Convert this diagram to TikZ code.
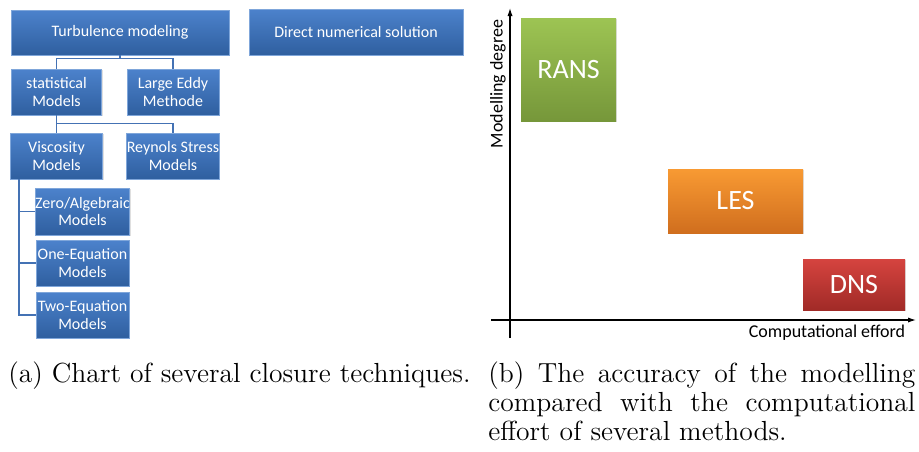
\documentclass[tikz,border=0pt]{standalone}
\usepackage{fontspec}
\newfontfamily\calib{Carlito}
\usetikzlibrary{arrows.meta,shadows}

\definecolor{boxtop}{HTML}{4C82CC}
\definecolor{boxbot}{HTML}{2F5F9F}
\definecolor{boxrim}{HTML}{7FA6DA}
\definecolor{connblue}{HTML}{4472B4}
\definecolor{ranstop}{HTML}{9DC453}
\definecolor{ransbot}{HTML}{76973A}
\definecolor{lestop}{HTML}{F89A33}
\definecolor{lesbot}{HTML}{D06E1E}
\definecolor{dnstop}{HTML}{D5443F}
\definecolor{dnsbot}{HTML}{A12A27}

\tikzset{
  treebox/.style={rectangle, draw=boxrim, line width=0.4pt,
    top color=boxtop, bottom color=boxbot, text=white, align=center,
    inner sep=0pt, font=\calib\fontsize{8}{8.7}\selectfont,
    drop shadow={shadow xshift=0.6pt, shadow yshift=-0.6pt, opacity=0.25}},
  conn/.style={draw=connblue, line width=0.75pt},
  methodbox/.style={rectangle, text=white, inner sep=0pt,
    font=\calib\fontsize{14}{16}\selectfont,
    drop shadow={shadow xshift=0.6pt, shadow yshift=-0.6pt, opacity=0.25}},
  axis/.style={draw=black, line width=0.6pt, -{Latex[length=4pt,width=2.6pt]}},
  axislabel/.style={font=\calib\fontsize{9}{10}\selectfont, inner sep=0pt},
  caption/.style={font=\fontsize{13.8}{14.5}\selectfont, inner sep=0pt}
}

\begin{document}
\begin{tikzpicture}[x=0.5pt,y=-0.5pt]
\useasboundingbox (0,0) rectangle (919,451);

% --- closure technique chart ---
\node[treebox, minimum width=109pt, minimum height=22.5pt] (turb) at (120,32.5) {Turbulence modeling};
\node[treebox, minimum width=107pt, minimum height=23pt] (dns0) at (356,32) {Direct numerical solution};
\node[treebox, minimum width=45pt, minimum height=23pt] (stat) at (56.5,92) {statistical\\Models};
\node[treebox, minimum width=46pt, minimum height=23pt] (lem) at (173,92) {Large Eddy\\Methode};
\node[treebox, minimum width=46pt, minimum height=23pt] (visc) at (56.5,156) {Viscosity\\Models};
\node[treebox, minimum width=46pt, minimum height=23pt] (reyn) at (173,156) {Reynols Stress\\Models};
\node[treebox, minimum width=46.5pt, minimum height=23.5pt] (zero) at (82.5,211.5) {Zero/Algebraic\\Models};
\node[treebox, minimum width=46.5pt, minimum height=23pt] (one) at (82.5,263) {One-Equation\\Models};
\node[treebox, minimum width=46.5pt, minimum height=23pt] (two) at (82.5,315) {Two-Equation\\Models};

\draw[conn] (turb.south) -- ++(0,3) coordinate (j1) -| (stat.north);
\draw[conn] (j1) -| (lem.north);
\draw[conn] (stat.south) -- ++(0,8) coordinate (j2) -- (visc.north);
\draw[conn] (j2) -| (reyn.north);
\draw[conn] ([xshift=4.5pt]visc.south west) coordinate (j3) |- (two.west);
\draw[conn] (j3) |- (zero.west);
\draw[conn] (j3) |- (one.west);

% --- modelling degree vs. computational effort ---
\coordinate (xstart) at (491,320);
\coordinate (xend) at (916,320);
\coordinate (ystart) at (510,338);
\coordinate (yend) at (510,8);
\draw[axis] (xstart) -- (xend);
\draw[axis] (ystart) -- (yend);
\node[axislabel, rotate=90] (ylab) at (498,84) {Modelling degree};
\node[axislabel] (xlab) at (827,333) {Computational efford};

\node[methodbox, top color=ranstop, bottom color=ransbot, minimum width=47.5pt, minimum height=51.5pt] (rans) at (568.5,69.5) {RANS};
\node[methodbox, top color=lestop, bottom color=lesbot, minimum width=67.5pt, minimum height=32pt] (les) at (735.5,201) {LES};
\node[methodbox, top color=dnstop, bottom color=dnsbot, minimum width=51pt, minimum height=25.5pt] (dns) at (854,284.5) {DNS};

% --- captions ---
\node[caption, anchor=base west] (capa) at (8,382) {(a) Chart of several closure techniques.};
\node[caption, anchor=base west] (capb) at (488,382)
  {\parbox[t]{213.5pt}{\fontsize{13.8}{14.5}\selectfont(b) The accuracy of the modelling\linebreak compared with the computational\linebreak effort of several methods.}};
\end{tikzpicture}
\end{document}
